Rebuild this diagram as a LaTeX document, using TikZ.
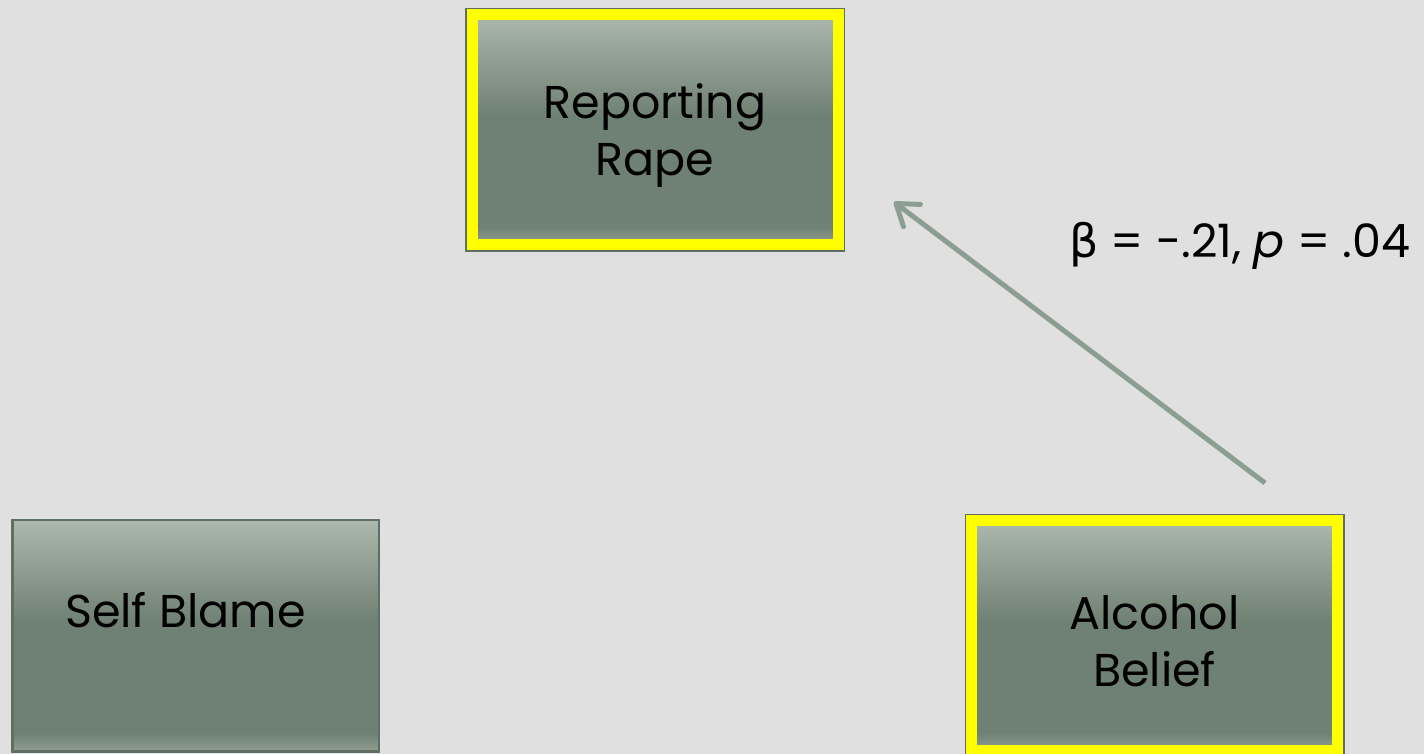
\documentclass[tikz,border=0pt]{standalone}
\usepackage{fontspec}
\setmainfont{Poppins}
\newfontfamily\greekfont{DejaVu Sans}
\usetikzlibrary{arrows.meta}
\definecolor{bg}{RGB}{224,224,224}
\definecolor{ctop}{RGB}{172,184,173}
\definecolor{cmid}{RGB}{111,129,116}
\definecolor{cbot}{RGB}{143,160,147}
\definecolor{edge}{RGB}{95,111,99}
\definecolor{hlyellow}{RGB}{255,255,0}
\definecolor{arrowc}{RGB}{139,158,145}
\pgfdeclareverticalshading{boxshade}{100bp}{color(0bp)=(cbot); color(25bp)=(cbot); color(29bp)=(cmid); color(53bp)=(cmid); color(75bp)=(ctop); color(100bp)=(ctop)}
\begin{document}
\begin{tikzpicture}[x=1pt,y=1pt,
  boxtext/.style={font=\fontsize{46}{57}\selectfont, align=center, text=black},
  shadedbox/.style={shading=boxshade, boxtext, inner sep=0pt},
  hlbox/.style={shadedbox, draw=hlyellow, line width=11pt, outer sep=0pt, minimum width=366pt, minimum height=230pt},
  plainbox/.style={shadedbox, draw=edge, line width=2.5pt, minimum width=366.5pt, minimum height=231.5pt},
  edgeline/.style={draw=edge, line width=1.5pt},
  patharrow/.style={draw=arrowc, line width=5pt, -{Straight Barb[length=20pt,width=28pt,round]}},
  coef/.style={font=\fontsize{46}{57}\selectfont, anchor=base west, inner sep=0pt}]
\fill[bg] (0,0) rectangle (1424,754);
\useasboundingbox (0,0) rectangle (1424,754);

\node[hlbox] (rr) at (655,624) {\rule{0pt}{46pt}Reporting\\Rape};
\draw[edgeline] ([shift={(-6.25,6.25)}]rr.north west) rectangle ([shift={(6.25,-6.25)}]rr.south east);

\node[hlbox] (ab) at (1154.5,118) {\rule{0pt}{44pt}Alcohol\\Belief};
\draw[edgeline] ([shift={(-6.25,6.25)}]ab.north west) rectangle ([shift={(6.25,-6.25)}]ab.south east);

\node[plainbox, text height=34pt, text depth=50pt] (sb) at (195.5,118) {Self Blame\hspace{20pt}};

\coordinate (atail) at (1265,271);
\coordinate (ahead) at (894,552);
\draw[patharrow] (atail) -- (ahead);

\node[coef] (beta) at (1069,496) {{\greekfont β} = -.21, \textit{p} = .04};
\end{tikzpicture}
\end{document}
